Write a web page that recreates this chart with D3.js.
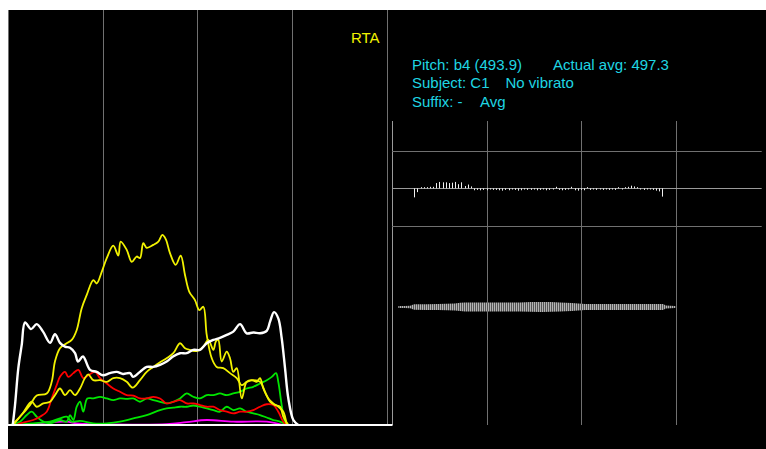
<!DOCTYPE html>
<html>
<head>
<meta charset="utf-8">
<script src="https://cdn.jsdelivr.net/npm/d3@7"></script>
<style>
  html, body { margin: 0; padding: 0; background: #ffffff; }
  svg { display: block; }
  text { font-family: "Liberation Sans", Arial, sans-serif; }
</style>
</head>
<body>
<svg id="chart" width="766" height="449"></svg>
<script>
// ---- Spectrum (RTA): [frequency Hz, relative level] per harmonic trace ----
const rtaWhite = [[50,0],[74,4.8],[109,13.7],[145,19.3],[180,24.7],[243,23.1],[303,24.3],[370,22.5],[444,19.8],[496,21.9],[549,19.8],[602,18.9],[655,18.6],[708,17.3],[739,15.3],[792,16.5],[866,13.3],[937,12.8],[1003,12.0],[1077,12.5],[1148,12.8],[1215,12.3],[1289,12.5],[1320,11.6],[1394,12.8],[1465,14.0],[1532,14.0],[1606,14.5],[1676,15.3],[1743,16.5],[1817,17.3],[1888,17.3],[1957,18.1],[2028,18.1],[2099,19.7],[2169,20.5],[2239,21.0],[2310,21.7],[2380,22.5],[2451,24.3],[2521,22.1],[2591,22.3],[2662,22.1],[2733,22.7],[2768,24.9],[2810,27.2],[2855,25.7],[2891,20.9],[2926,13.7],[2961,6.4],[3014,1.2],[3066,0]];
const rtaYellowA = [[42,0],[127,2.0],[232,4.8],[303,7.1],[409,7.6],[462,10.4],[496,15.3],[549,18.5],[620,19.7],[673,20.5],[726,22.9],[778,28.1],[831,31.3],[901,34.9],[937,34.1],[990,36.9],[1043,40.2],[1112,43.2],[1165,40.8],[1190,44.2],[1254,42.2],[1307,39.3],[1359,40.6],[1394,40.2],[1429,43.8],[1465,42.7],[1535,43.4],[1588,44.2],[1630,45.8],[1666,44.8],[1711,41.4],[1771,38.6],[1824,40.8],[1870,36.1],[1915,32.1],[1975,30.1],[2021,27.7],[2063,28.5],[2099,21.7],[2152,16.1],[2204,14.0],[2274,13.7],[2345,12.5],[2416,11.3],[2469,9.6],[2521,10.4],[2591,10.8],[2662,10.4],[2715,8.0],[2768,5.6],[2820,4.8],[2873,4.4],[2908,2.0],[2961,0]];
const rtaYellowB = [[56,0],[158,2.9],[250,5.6],[303,4.4],[373,5.2],[444,5.6],[496,7.2],[549,8.8],[602,7.2],[655,8.4],[708,7.2],[761,8.8],[813,11.3],[848,12.2],[901,10.8],[972,10.8],[1043,10.4],[1112,11.3],[1183,11.3],[1254,10.4],[1317,9.0],[1394,10.8],[1465,12.8],[1535,14.0],[1606,15.1],[1676,16.1],[1746,17.3],[1817,19.7],[1870,18.5],[1922,18.1],[1993,17.8],[2063,18.9],[2116,20.5],[2169,18.1],[2197,20.2],[2221,20.5],[2257,15.3],[2310,17.7],[2345,16.1],[2380,12.8],[2416,13.7],[2469,6.4],[2521,10.4],[2574,10.8],[2627,10.4],[2662,11.3],[2697,8.8],[2750,6.4],[2802,5.2],[2855,4.4],[2908,3.2],[2944,0]];
const rtaRed = [[92,0],[127,0.4],[267,1.2],[338,2.0],[409,3.2],[462,6.4],[514,9.6],[549,11.6],[602,12.8],[637,11.6],[690,12.5],[743,13.3],[795,11.3],[848,12.0],[919,12.8],[972,11.3],[1043,10.0],[1112,8.8],[1183,8.0],[1254,7.2],[1324,7.1],[1394,6.4],[1465,6.4],[1535,6.8],[1606,6.4],[1676,5.2],[1746,5.6],[1817,6.0],[1888,5.2],[1957,5.2],[2028,4.8],[2099,4.4],[2169,4.4],[2239,3.6],[2310,3.2],[2380,2.8],[2451,3.2],[2521,3.2],[2591,3.6],[2662,4.4],[2733,5.0],[2802,4.8],[2855,3.2],[2908,0.8],[2944,0]];
const rtaGreenA = [[21,0],[127,0.8],[198,2.4],[250,3.2],[303,2.0],[373,0.8],[444,0.4],[549,1.2],[620,0.8],[655,2.4],[690,1.2],[726,4.4],[761,5.6],[795,3.2],[838,6.4],[901,6.4],[972,6.8],[1043,6.4],[1112,6.0],[1183,6.4],[1254,6.3],[1324,6.4],[1394,5.6],[1465,6.4],[1535,6.0],[1606,5.6],[1676,5.2],[1746,5.6],[1817,6.4],[1888,7.6],[1957,6.8],[2028,6.4],[2099,7.2],[2169,7.2],[2239,7.6],[2310,7.2],[2380,7.6],[2451,8.0],[2521,8.8],[2591,9.2],[2662,10.0],[2733,10.8],[2786,11.6],[2831,12.5],[2855,10.4],[2891,4.8],[2926,0.8],[2961,0]];
const rtaGreenB = [[21,0],[267,0.4],[444,0.8],[549,1.6],[620,2.0],[673,0.8],[761,1.0],[901,0.4],[1043,0.4],[1183,0.8],[1324,1.6],[1465,2.4],[1606,3.6],[1676,4.0],[1746,4.2],[1817,4.4],[1888,4.4],[1957,4.7],[2028,4.4],[2099,4.0],[2169,3.6],[2239,3.2],[2310,4.4],[2380,3.6],[2451,4.0],[2521,3.2],[2591,2.8],[2662,2.4],[2733,1.8],[2802,1.2],[2873,0.8],[2944,0]];
const rtaMagenta = [[21,0],[264,0.2],[444,0.7],[620,0.8],[726,0.4],[972,0.2],[1676,0.2],[1888,0.7],[2099,1.2],[2380,0.8],[2733,0.8],[2908,0]];

const rtaSeries = [
  { name: "magenta", color: "#ff00ff", data: rtaMagenta },
  { name: "greenB",  color: "#00e600", data: rtaGreenB },
  { name: "greenA",  color: "#00e600", data: rtaGreenA },
  { name: "red",     color: "#ff0000", data: rtaRed },
  { name: "yellowB", color: "#f2f200", data: rtaYellowB },
  { name: "yellowA", color: "#f2f200", data: rtaYellowA },
  { name: "white",   color: "#ffffff", data: rtaWhite }
];
const rtaFreqTicks = [0, 1000, 2000, 3000, 4000];

// ---- Pitch deviation (cents) per analysis frame ----
const pitchStart = 0.236;      // s
const pitchFrame = 0.03317;    // s per frame
const pitchCents = [-22,-8,1,1,1,2,2,12,15,14,14,12,13,15,9,14,4,8,3,-3,-2,-3,-2,-3,-1,-2,-2,-3,-4,-2,-3,-1,-2,-4,-3,-1,-2,-2,-1,-3,-2,-1,-3,-2,-1,2,-2,-3,-2,-1,2,-3,-4,-2,-3,1,-2,-1,-2,-1,-2,-1,-2,-1,-2,1,-1,1,2,5,3,1,-1,-2,-1,-1,-2,-4,-6,-20];
const pitchGridCents = [-100, 0, 100];
const timeTicks = [0, 1, 2, 3];

// ---- Waveform envelope: [time s, amplitude] ----
const waveEnvelope = [[0.067,0.013],[0.19,0.019],[0.236,0.059],[0.486,0.067],[0.665,0.080],[0.771,0.102],[1.141,0.102],[1.352,0.107],[1.581,0.115],[1.775,0.107],[1.898,0.094],[2.039,0.067],[2.408,0.061],[2.725,0.064],[2.862,0.061],[2.894,0.021],[2.989,0.011],[2.997,0]];

// ---- Labels ----
const rtaTitle = "RTA";
const infoLines = [
  ["Pitch: b4 (493.9)", "Actual avg: 497.3"],
  ["Subject: C1", "No vibrato"],
  ["Suffix: -", "Avg"]
];

const svg = d3.select("#chart");
const gridColor = "#707070";

// screen background
svg.append("rect").attr("x", 8).attr("y", 10).attr("width", 758).attr("height", 439).attr("fill", "#000");

// ---------- RTA panel ----------
const xL = d3.scaleLinear().domain([0, 4000]).range([8, 386.7]);
const yL = d3.scaleLinear().domain([0, 100]).range([425, 10]);

svg.append("g").selectAll("line").data(rtaFreqTicks).join("line")
  .attr("x1", d => Math.round(xL(d)) + 0.5).attr("x2", d => Math.round(xL(d)) + 0.5)
  .attr("y1", yL(100)).attr("y2", yL(0))
  .attr("stroke", gridColor).attr("stroke-width", 1);

const rtaLine = d3.line()
  .x(d => xL(d[0])).y(d => yL(d[1]))
  .curve(d3.curveCatmullRom.alpha(0.5));

svg.append("g").selectAll("path").data(rtaSeries).join("path")
  .attr("d", s => rtaLine(s.data))
  .attr("fill", "none")
  .attr("stroke", s => s.color)
  .attr("stroke-width", s => s.name === "white" ? 2.4 : 1.8)
  .attr("stroke-linejoin", "round");

svg.append("text").text(rtaTitle)
  .attr("x", 351).attr("y", 43)
  .attr("fill", "#f2f200").attr("font-size", 15);

// ---------- Pitch / waveform panel ----------
const xR = d3.scaleLinear().domain([0, 4]).range([392, 770.7]);
const yP = d3.scaleLinear().domain([-100, 100]).range([225.7, 151]);
const yW = d3.scaleLinear().domain([-1, 1]).range([344.4, 269.6]);
const panelTop = 121, panelBottom = 425, panelRight = 761.7;

svg.append("g").selectAll("line").data(timeTicks).join("line")
  .attr("x1", d => Math.round(xR(d)) + 0.5).attr("x2", d => Math.round(xR(d)) + 0.5)
  .attr("y1", panelTop).attr("y2", panelBottom)
  .attr("stroke", d => d === 0 ? "#9a9a9a" : gridColor).attr("stroke-width", 1);

svg.append("g").selectAll("line").data(pitchGridCents).join("line")
  .attr("x1", xR(0)).attr("x2", panelRight)
  .attr("y1", d => Math.round(yP(d)) + 0.5).attr("y2", d => Math.round(yP(d)) + 0.5)
  .attr("stroke", d => d === 0 ? "#9a9a9a" : gridColor).attr("stroke-width", 1);

// baseline of the spectrum
svg.append("line")
  .attr("x1", xL(0)).attr("x2", xR(0) + 0.5)
  .attr("y1", yL(0)).attr("y2", yL(0))
  .attr("stroke", "#fff").attr("stroke-width", 2);

// pitch deviation bars
svg.append("g").selectAll("line").data(pitchCents).join("line")
  .attr("x1", (d, i) => Math.round(xR(pitchStart + i * pitchFrame)) + 0.5)
  .attr("x2", (d, i) => Math.round(xR(pitchStart + i * pitchFrame)) + 0.5)
  .attr("y1", yP(0))
  .attr("y2", d => yP(d) + (d >= 0 ? -0.8 : 0.8))
  .attr("stroke", "#f0f0f0").attr("stroke-width", 1);

// waveform, drawn as a striped envelope
const defs = svg.append("defs");
const pat = defs.append("pattern").attr("id", "wavestripe")
  .attr("patternUnits", "userSpaceOnUse").attr("width", 2).attr("height", 10);
pat.append("rect").attr("width", 2).attr("height", 10).attr("fill", "#555555");
pat.append("rect").attr("width", 1).attr("height", 10).attr("fill", "#b4b4b4");

const waveArea = d3.area()
  .x(d => xR(d[0]))
  .y0(d => yW(-d[1]) + 0.6)
  .y1(d => yW(d[1]) - 0.6)
  .curve(d3.curveMonotoneX);
svg.append("path").attr("d", waveArea(waveEnvelope)).attr("fill", "url(#wavestripe)");

// info text
const info = svg.append("g").attr("fill", "#1fd6e3").attr("font-size", 15);
const infoX = [412, [553, 505.5, 480]];
infoLines.forEach((pair, i) => {
  const y = 69.5 + i * 18.5;
  info.append("text").attr("x", infoX[0]).attr("y", y).text(pair[0]);
  info.append("text").attr("x", infoX[1][i]).attr("y", y).text(pair[1]);
});
</script>
</body>
</html>
